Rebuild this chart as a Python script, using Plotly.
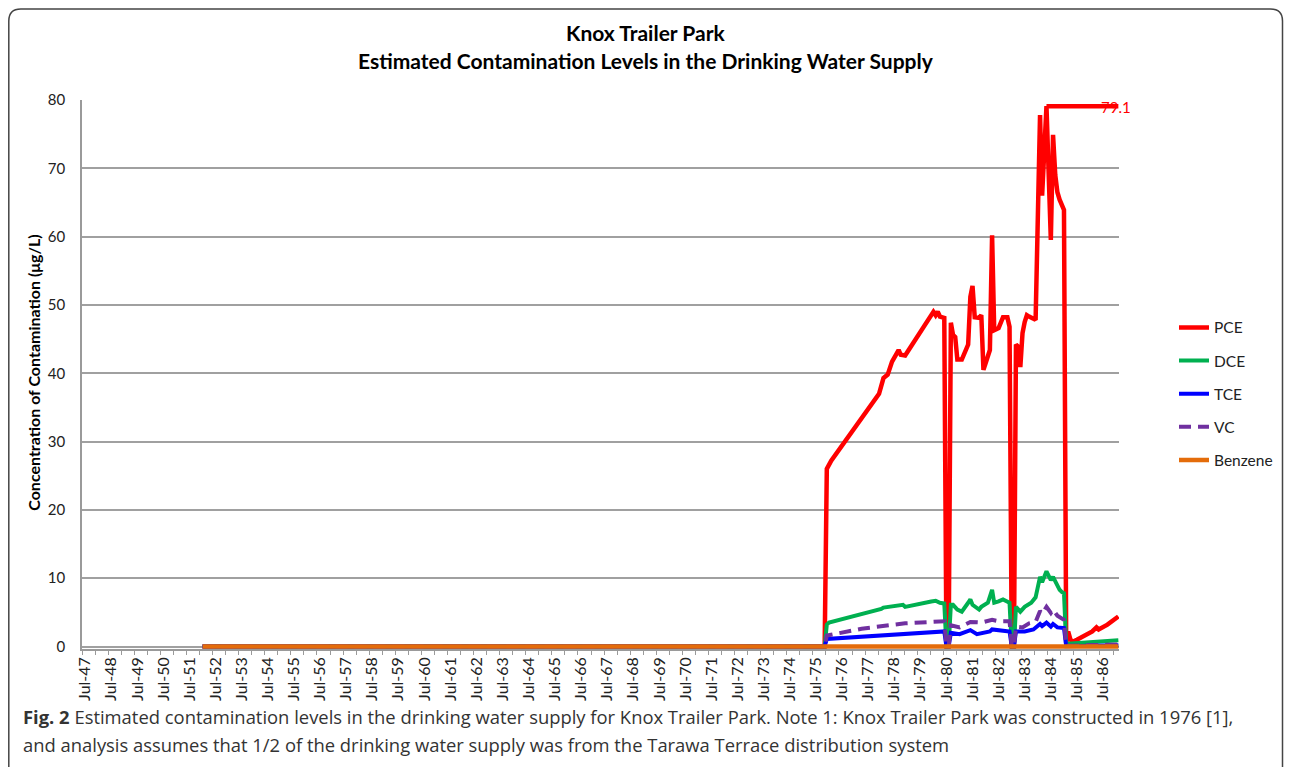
import plotly.graph_objects as go

# ---------------- data ----------------
PCE_DATES = ["1952-01-01", "1975-11-01", "1975-12-01", "1976-02-01", "1977-12-01", "1978-02-01",
             "1978-04-01", "1978-06-01", "1978-09-01", "1978-10-01", "1978-12-01", "1979-12-01",
             "1980-01-01", "1980-02-01", "1980-03-01", "1980-04-01", "1980-06-01", "1980-07-01",
             "1980-08-01", "1980-09-01", "1980-10-01", "1980-11-01", "1980-12-01", "1981-02-01",
             "1981-05-01", "1981-06-01", "1981-07-01", "1981-08-01", "1981-10-01", "1981-11-01",
             "1981-12-01", "1982-01-01", "1982-03-01", "1982-04-01", "1982-05-01", "1982-07-01",
             "1982-09-01", "1982-11-01", "1982-12-01", "1983-01-01", "1983-02-01", "1983-03-01",
             "1983-04-01", "1983-05-01", "1983-06-01", "1983-07-01", "1983-08-01", "1983-09-01",
             "1983-10-01", "1983-11-01", "1983-12-01", "1984-01-01", "1984-02-01", "1984-03-01",
             "1984-05-01", "1984-07-01", "1984-08-01", "1984-09-01", "1984-10-01", "1984-11-01",
             "1984-12-01", "1985-01-01", "1985-02-01", "1985-03-01", "1985-04-01", "1985-05-01",
             "1985-07-01", "1986-02-01", "1986-04-01", "1986-05-01", "1986-09-01", "1987-02-01"]
PCE = [0, 0, 26.0, 27.2, 37.0, 39.3,
       39.8, 41.7, 43.4, 42.7, 42.6, 48.3,
       49.0, 48.5, 49.0, 48.3, 48.1, 0,
       0, 47.4, 45.6, 45.3, 42.0, 42.0,
       44.2, 51.2, 52.8, 48.2, 48.1, 48.5,
       40.5, 41.5, 43.4, 60.2, 46.3, 46.6,
       48.2, 48.2, 46.8, 0, 0, 44.2,
       43.9, 40.9, 45.9, 47.5, 48.5, 48.3,
       48.2, 48.0, 47.8, 60.0, 77.8, 66.0,
       79.1, 59.5, 74.9, 69.0, 66.5, 65.4,
       64.4, 63.9, 0.5, 2.2, 1.0, 0.7,
       1.0, 2.2, 2.8, 2.5, 3.2, 4.4]

PCE_MAX_DATES = ["1984-05-01", "1987-02-01"]
PCE_MAX = [79.1, 79.1]
PCE_MAX_LABEL = "79.1"

DCE_DATES = ["1952-01-01", "1975-11-01", "1975-12-01", "1976-01-01", "1978-01-01", "1978-02-01",
             "1978-11-01", "1978-12-01", "1979-12-01", "1980-02-01", "1980-04-01", "1980-06-01",
             "1980-07-01", "1980-08-01", "1980-09-01", "1980-10-01", "1980-12-01", "1981-02-01",
             "1981-05-01", "1981-06-01", "1981-07-01", "1981-10-01", "1981-11-01", "1982-02-01",
             "1982-04-01", "1982-05-01", "1982-07-01", "1982-09-01", "1982-12-01", "1983-01-01",
             "1983-02-01", "1983-03-01", "1983-05-01", "1983-07-01", "1983-10-01", "1983-12-01",
             "1984-02-01", "1984-03-01", "1984-05-01", "1984-07-01", "1984-08-01", "1984-10-01",
             "1984-11-01", "1984-12-01", "1985-01-01", "1985-02-01", "1985-03-01", "1987-02-01"]
DCE = [0, 0, 3.2, 3.5, 5.5, 5.7,
       6.1, 5.8, 6.6, 6.7, 6.4, 6.3,
       0, 0, 6.1, 6.1, 5.4, 5.1,
       6.4, 6.9, 6.1, 5.4, 5.8, 6.4,
       8.3, 6.4, 6.6, 6.9, 6.4, 0,
       0, 5.8, 5.1, 5.8, 6.4, 7.2,
       10.2, 9.4, 11.0, 9.7, 10.2, 8.8,
       8.3, 8.0, 7.8, 0.3, 0.4, 0.9]

TCE_DATES = ["1952-01-01", "1975-11-01", "1975-12-01", "1977-12-01", "1979-12-01", "1980-06-01",
             "1980-07-01", "1980-08-01", "1980-09-01", "1981-01-01", "1981-06-01", "1981-09-01",
             "1982-03-01", "1982-04-01", "1982-12-01", "1983-01-01", "1983-02-01", "1983-03-01",
             "1983-07-01", "1983-11-01", "1984-02-01", "1984-03-01", "1984-05-01", "1984-07-01",
             "1984-08-01", "1984-10-01", "1985-01-01", "1985-02-01", "1987-02-01"]
TCE = [0, 0, 1.1, 1.6, 2.1, 2.2,
       0, 0, 2.0, 1.8, 2.4, 1.8,
       2.2, 2.5, 2.2, 0, 0, 2.2,
       2.2, 2.5, 3.3, 3.0, 3.5, 2.9,
       3.3, 2.8, 2.7, 0.05, 0.2]

VC_DATES = ["1952-01-01", "1975-11-01", "1975-12-01", "1976-07-01", "1977-04-01", "1978-12-01",
            "1979-12-01", "1980-06-01", "1980-07-01", "1980-08-01", "1980-09-01", "1981-01-01",
            "1981-06-01", "1981-11-01", "1982-04-01", "1982-07-01", "1982-12-01", "1983-01-01",
            "1983-02-01", "1983-03-01", "1983-06-01", "1983-09-01", "1983-12-01", "1984-02-01",
            "1984-03-01", "1984-05-01", "1984-07-01", "1984-08-01", "1984-10-01", "1985-01-01",
            "1985-02-01", "1987-02-01"]
VC = [0, 0, 1.6, 2.1, 2.6, 3.4,
      3.6, 3.7, 0, 0, 3.1, 2.8,
      3.6, 3.5, 3.9, 3.7, 3.7, 0,
      0, 2.9, 2.8, 3.4, 3.6, 5.2,
      4.8, 5.8, 4.9, 5.4, 4.5, 3.9,
      0.1, 0.3]

BENZENE_DATES = ["1952-01-01", "1987-02-01"]
BENZENE = [0, 0]

SERIES = ["PCE", "DCE", "TCE", "VC", "Benzene"]
TITLE_LINES = ["Knox Trailer Park", "Estimated Contamination Levels in the Drinking Water Supply"]
Y_TITLE = "Concentration of Contamination (μg/L)"
CAPTION_1 = ("<b>Fig. 2</b> Estimated contamination levels in the drinking water supply for Knox Trailer Park. "
             "Note 1: Knox Trailer Park was constructed in 1976 [1],")
CAPTION_2 = "and analysis assumes that 1/2 of the drinking water supply was from the Tarawa Terrace distribution system"

# ---------------- layout geometry (page pixels) ----------------
PAGE_W, PAGE_H = 1292, 767
OFF = 8                      # default body margin of the html page
W, H = PAGE_W - OFF, PAGE_H - OFF
L, R, T = 82, 1119, 100      # plot left / right / top (value 80)
Y0 = 647                     # page y of value 0
B = 649.5                    # plot bottom, a little below 0 so the 0 line is not clipped
PW, PH = R - L, B - T
Y_PER_UNIT = (Y0 - T) / 80.0
Y_MIN = -(B - Y0) / Y_PER_UNIT


def px(x):
    return (x - L) / PW


def py(y):
    return (B - y) / PH


FONT = "Lato"
CAP_FONT = "Open Sans"

fig = go.Figure()

styles = {
    "PCE": dict(color="#FF0000", width=4.5),
    "DCE": dict(color="#00B050", width=4),
    "TCE": dict(color="#0000FF", width=4),
    "VC": dict(color="#7030A0", width=4, dash="12px,7px"),
    "Benzene": dict(color="#E46C0A", width=4.5),
}

data = {
    "PCE": (PCE_DATES, PCE),
    "DCE": (DCE_DATES, DCE),
    "TCE": (TCE_DATES, TCE),
    "VC": (VC_DATES, VC),
}

for name in SERIES[:4]:
    d, v = data[name]
    fig.add_trace(go.Scatter(x=d, y=v, mode="lines", name=name, line=styles[name],
                             legendgroup=name))

fig.add_trace(go.Scatter(x=PCE_MAX_DATES, y=PCE_MAX, mode="lines", showlegend=False,
                         line=dict(color="#FF0000", width=4.5), hoverinfo="skip"))

fig.add_trace(go.Scatter(x=BENZENE_DATES, y=BENZENE, mode="lines", name="Benzene",
                         line=styles["Benzene"], legendgroup="Benzene"))

fig.add_annotation(x=PCE_MAX_DATES[-1], y=PCE_MAX[-1], text=PCE_MAX_LABEL, showarrow=False,
                   xanchor="center", yanchor="middle", xshift=-2, yshift=-1,
                   font=dict(family=FONT, size=15, color="#FF0000"))

# titles
fig.add_annotation(x=px(646), y=py(32), xref="paper", yref="paper", text="<b>%s</b>" % TITLE_LINES[0],
                   showarrow=False, xanchor="center", yanchor="middle",
                   font=dict(family=FONT, size=21, color="#000000"))
fig.add_annotation(x=px(646), y=py(60), xref="paper", yref="paper", text="<b>%s</b>" % TITLE_LINES[1],
                   showarrow=False, xanchor="center", yanchor="middle",
                   font=dict(family=FONT, size=21, color="#000000"))
# y title
fig.add_annotation(x=px(34), y=py(373), xref="paper", yref="paper", text="<b>%s</b>" % Y_TITLE,
                   showarrow=False, textangle=-90, xanchor="center", yanchor="middle",
                   font=dict(family=FONT, size=16, color="#000000"))
# caption
fig.add_annotation(x=px(21), y=py(717), xref="paper", yref="paper", text=CAPTION_1,
                   showarrow=False, xanchor="left", yanchor="middle",
                   font=dict(family=CAP_FONT, size=18.4, color="#333333"))
fig.add_annotation(x=px(21), y=py(745), xref="paper", yref="paper", text=CAPTION_2,
                   showarrow=False, xanchor="left", yanchor="middle",
                   font=dict(family=CAP_FONT, size=18.4, color="#333333"))

# rounded outer border
x0, x1 = px(8.8), px(1282.5)
y1, y0 = py(9), py(800)
rx, ry = 12 / PW, 12 / PH
fig.add_shape(type="path", xref="paper", yref="paper",
              path=(f"M {x0},{y0} V {y1 - ry} Q {x0},{y1} {x0 + rx},{y1} "
                    f"H {x1 - rx} Q {x1},{y1} {x1},{y1 - ry} V {y0}"),
              line=dict(color="#444444", width=1.5))

fig.update_layout(
    width=W, height=H,
    margin=dict(l=L - OFF, r=PAGE_W - R, t=T - OFF, b=PAGE_H - B, autoexpand=False),
    paper_bgcolor="white", plot_bgcolor="white",
    showlegend=True,
    legend=dict(x=px(1174), y=py(311), xanchor="left", yanchor="top",
                font=dict(family=FONT, size=15.5, color="#222222"),
                tracegroupgap=10, bgcolor="rgba(0,0,0,0)"),
    xaxis=dict(
        type="date",
        range=["1947-05-19", "1987-02-10"],
        tick0="1947-07-01", dtick="M12", tickformat="%b-%y", tickangle=-90,
        ticks="", showgrid=False, zeroline=False,
        showline=True, linecolor="#9A9A9A", linewidth=1.5,
        tickfont=dict(family=FONT, size=16, color="#222222"),
        minor=dict(ticks="outside", ticklen=4, tickcolor="#9A9A9A", tickwidth=1,
                   tick0="1947-05-19", dtick="M6", showgrid=False),
    ),
    yaxis=dict(
        range=[Y_MIN, 80], dtick=10, tick0=0,
        showgrid=True, gridcolor="#A0A0A0", gridwidth=1.5,
        zeroline=False, showline=True, linecolor="#9A9A9A", linewidth=1.5,
        ticks="", ticklabelstandoff=12,
        tickfont=dict(family=FONT, size=15, color="#222222"),
    ),
)

fig.write_html("out.html")
